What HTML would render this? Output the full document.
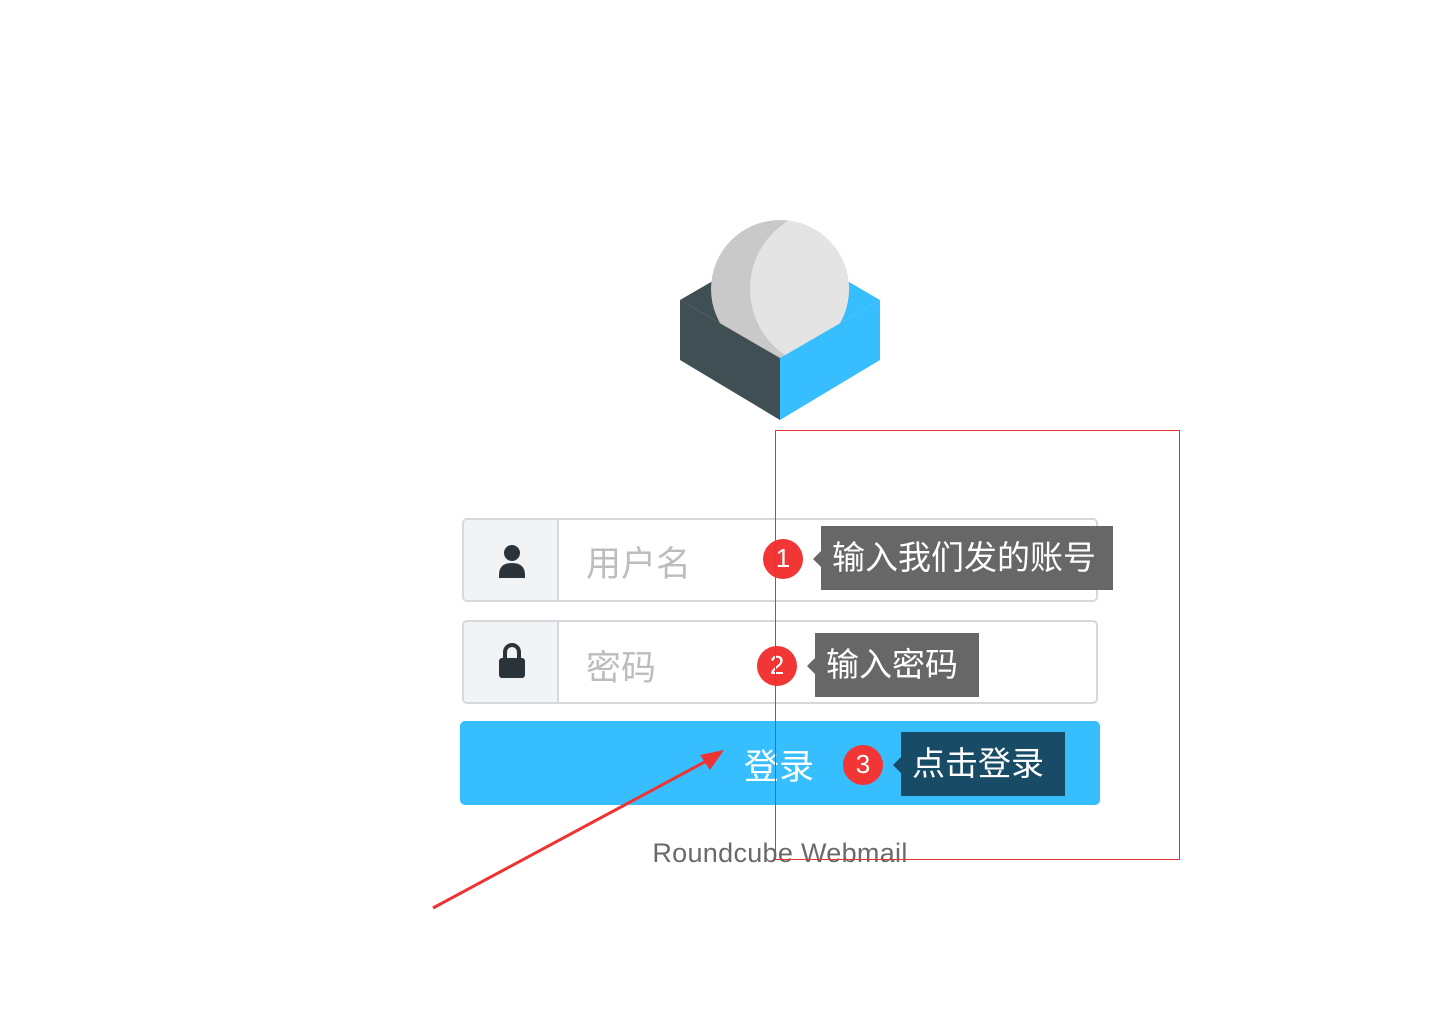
<!DOCTYPE html>
<html><head><meta charset="utf-8"><style>
body{margin:0;width:1450px;height:1010px;background:#fff;position:relative;overflow:hidden;font-family:"Liberation Sans","Noto Sans CJK SC",sans-serif}
.abs{position:absolute}
.inp{position:absolute;left:462px;width:636px;height:84px;border:2px solid #d5d8dc;border-radius:5px;box-sizing:border-box;background:#fff;overflow:hidden}
.ico{position:absolute;left:0;top:0;width:93px;height:100%;background:#f1f3f5;border-right:2px solid #d5d8dc}
.ph{position:absolute;left:122px;font-size:35px;color:#bdbdbd}
.badge{position:absolute;width:40px;height:40px;border-radius:50%;background:#f23535;color:#fff;font-size:26px;text-align:center;line-height:38px}
.tip{position:absolute;color:#fff;font-size:33px;line-height:64px;padding:0 11px;box-sizing:border-box}
.tip:before{content:"";position:absolute;left:-8px;top:25px;border-top:8px solid transparent;border-bottom:8px solid transparent;border-right:8px solid var(--c)}
</style></head><body>
<svg class="abs" style="left:0;top:0" width="1450" height="1010">
<defs><clipPath id="cp"><polygon points="600,150 960,150 960,300 880,300 780,358 680,300 600,300"/></clipPath>
<clipPath id="cc"><circle cx="780" cy="289" r="69"/></clipPath></defs>
<polygon points="680,300 780,358 780,420 680,360" fill="#404f54"/>
<polygon points="680,300 730,271 780,358" fill="#404f54"/>
<polygon points="880,300 780,358 780,420 880,360" fill="#37beff"/>
<polygon points="880,300 830,271 780,358" fill="#37beff"/>
<g clip-path="url(#cp)">
<circle cx="780" cy="289" r="69" fill="#c9c9c9"/>
<g clip-path="url(#cc)"><ellipse cx="830" cy="289" rx="80" ry="80" fill="#e4e4e4"/></g>
</g>
</svg>
<div class="inp" style="top:518px"><div class="ico">
<svg width="93" height="80"><circle cx="48" cy="33" r="8" fill="#2c343b"/><path d="M35 55 q0-12 13-12 q13 0 13 12 v3 h-26z" fill="#2c343b"/></svg></div>
<div class="ph" style="top:16px">用户名</div></div>
<div class="inp" style="top:620px"><div class="ico">
<svg width="93" height="80"><path d="M41 36 v-6 a7 7 0 0 1 14 0 v6" stroke="#2c343b" stroke-width="4" fill="none"/><rect x="35" y="36" width="26" height="20" rx="3" fill="#2c343b"/></svg></div>
<div class="ph" style="top:18px">密码</div></div>
<div class="abs" style="left:460px;top:721px;width:640px;height:84px;background:#37beff;border-radius:5px"></div>
<div class="abs" style="left:744px;top:739px;font-size:35px;color:#fff">登录</div>
<div class="abs" style="left:0;width:1560px;text-align:center;top:838px;font-size:27px;color:#6a6a6a;letter-spacing:0.3px">Roundcube Webmail</div>
<div class="badge" style="left:763px;top:539px">1</div>
<div class="tip" style="--c:#676767;left:821px;top:526px;width:292px;background:#676767">输入我们发的账号</div>
<div class="badge" style="left:757px;top:646px">2</div>
<div class="tip" style="--c:#676767;left:815px;top:633px;width:164px;background:#676767">输入密码</div>
<div class="badge" style="left:843px;top:745px">3</div>
<div class="tip" style="--c:#184b66;left:901px;top:732px;width:164px;background:#184b66">点击登录</div>
<svg class="abs" style="left:0;top:0" width="1450" height="1010">
<rect x="775.5" y="430.5" width="404" height="429" fill="none" stroke="#e53333" stroke-width="1"/>
<line x1="433" y1="908" x2="712" y2="758" stroke="#ee3333" stroke-width="3"/>
<polygon points="724,750 700,755 710,770" fill="#ee3333"/>
</svg>
</body></html>
